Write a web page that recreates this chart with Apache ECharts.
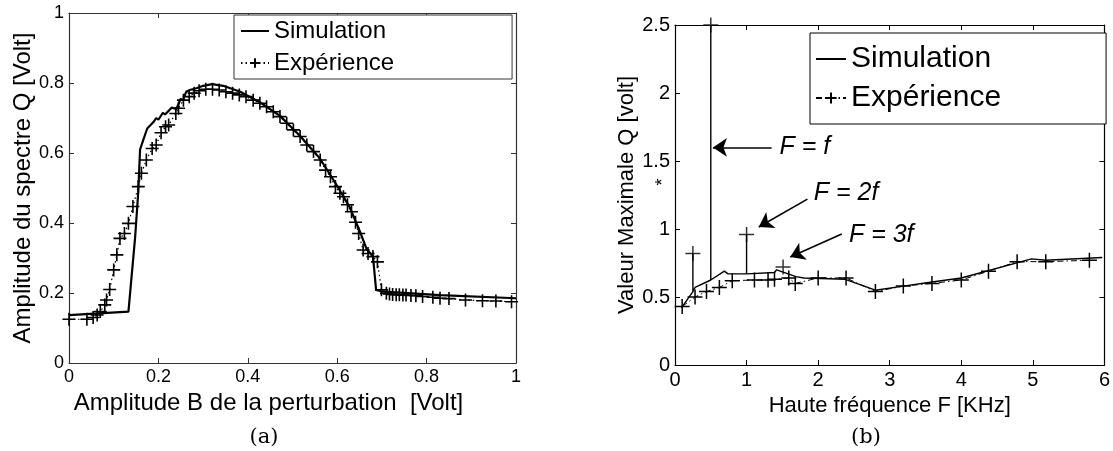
<!DOCTYPE html>
<html><head><meta charset="utf-8">
<script src="https://cdn.jsdelivr.net/npm/echarts@6/dist/echarts.min.js"></script>
<style>html,body{margin:0;padding:0;background:#fff}#c{width:1113px;height:451px}</style>
</head><body><div id="c"></div>
<script>
// ---- Panel (a) data ----
const simAX = [0, 0.133, 0.14, 0.148, 0.155, 0.159, 0.166, 0.175, 0.19, 0.195, 0.2, 0.21, 0.215, 0.23, 0.24, 0.25, 0.255, 0.262, 0.27, 0.285, 0.3, 0.32, 0.345, 0.383, 0.427, 0.472, 0.516, 0.561, 0.598, 0.628, 0.651, 0.666, 0.68, 0.687, 0.703, 0.83, 1.0];
const simAY = [0.137, 0.147, 0.247, 0.36, 0.49, 0.61, 0.637, 0.67, 0.69, 0.70, 0.695, 0.715, 0.71, 0.73, 0.725, 0.755, 0.75, 0.775, 0.78, 0.785, 0.792, 0.797, 0.792, 0.775, 0.745, 0.706, 0.65, 0.585, 0.51, 0.445, 0.375, 0.325, 0.305, 0.209, 0.204, 0.194, 0.185];
const expAX = [0, 0.04, 0.054, 0.063, 0.07, 0.08, 0.084, 0.091, 0.1, 0.107, 0.114, 0.124, 0.133, 0.143, 0.155, 0.162, 0.173, 0.186, 0.195, 0.206, 0.216, 0.223, 0.239, 0.245, 0.256, 0.269, 0.28, 0.291, 0.306, 0.321, 0.336, 0.351, 0.366, 0.381, 0.396, 0.412, 0.427, 0.442, 0.457, 0.472, 0.487, 0.502, 0.517, 0.532, 0.547, 0.562, 0.574, 0.585, 0.596, 0.606, 0.614, 0.623, 0.632, 0.641, 0.648, 0.658, 0.669, 0.68, 0.69, 0.699, 0.71, 0.717, 0.724, 0.732, 0.739, 0.747, 0.754, 0.765, 0.776, 0.791, 0.814, 0.83, 0.85, 0.887, 0.925, 0.955, 0.99];
const expAY = [0.125, 0.125, 0.13, 0.137, 0.147, 0.166, 0.18, 0.21, 0.266, 0.309, 0.356, 0.37, 0.399, 0.447, 0.504, 0.542, 0.58, 0.613, 0.623, 0.658, 0.675, 0.68, 0.713, 0.728, 0.751, 0.761, 0.771, 0.778, 0.782, 0.782, 0.78, 0.775, 0.771, 0.766, 0.761, 0.751, 0.742, 0.732, 0.718, 0.704, 0.685, 0.666, 0.647, 0.623, 0.604, 0.58, 0.551, 0.532, 0.504, 0.485, 0.475, 0.452, 0.432, 0.402, 0.37, 0.323, 0.313, 0.304, 0.289, 0.209, 0.199, 0.197, 0.196, 0.195, 0.195, 0.194, 0.194, 0.193, 0.192, 0.19, 0.188, 0.185, 0.184, 0.18, 0.178, 0.177, 0.175];

// ---- Panel (b) data ----
const simBX = [0.09, 0.25, 0.25, 0.25, 0.28, 0.5, 0.5, 0.5, 0.69, 0.74, 1.0, 1.0, 1.0, 1.39, 1.42, 1.69, 1.8, 2.38, 2.8, 3.19, 3.59, 4.0, 4.98, 5.18, 5.97];
const simBY = [0.42, 0.54, 0.82, 0.54, 0.57, 0.625, 2.5, 0.625, 0.69, 0.67, 0.67, 0.96, 0.67, 0.68, 0.70, 0.65, 0.64, 0.63, 0.55, 0.58, 0.61, 0.64, 0.78, 0.77, 0.79];
const expBX = [0.1, 0.28, 0.44, 0.62, 0.8, 1.11, 1.3, 1.39, 1.59, 1.68, 2.0, 2.39, 2.8, 3.19, 3.59, 4.0, 4.38, 4.78, 5.18, 5.79];
const expBY = [0.43, 0.50, 0.54, 0.57, 0.62, 0.625, 0.625, 0.63, 0.64, 0.60, 0.64, 0.64, 0.54, 0.58, 0.60, 0.625, 0.69, 0.76, 0.76, 0.77];
const harmX = [0.25, 0.5, 1.0, 1.51];
const harmY = [0.82, 2.5, 0.96, 0.72];
// annotations (data coordinates of panel b)
const annotLabels = ['F = f', 'F = 2f', 'F = 3f'];
const annotText = [[1.46, 1.60], [1.94, 1.265], [2.43, 0.956]];
const annotArrowFrom = [[1.35, 1.60], [1.85, 1.22], [2.33, 0.963]];
const annotArrowTo = [[0.53, 1.60], [1.17, 1.015], [1.61, 0.794]];

const FONT = "'Liberation Sans', Arial, sans-serif";
const PLUS = 'path://M0,5L10,5M5,0L5,10';
const zip = (xs, ys) => xs.map((x, i) => [x, ys[i]]);

const chart = echarts.init(document.getElementById('c'), null, {renderer: 'canvas'});

function xAx(grid, max, interval, name, fs, tfs, gap, color, pad) {
  return {type: 'value', gridIndex: grid, min: 0, max: max, interval: interval, position: 'bottom',
    name: name, nameLocation: 'middle', nameGap: gap,
    nameTextStyle: {fontFamily: FONT, fontSize: fs, color: '#000', padding: pad || 0},
    axisLine: {show: true, onZero: false, lineStyle: {color: color, width: 1.2}},
    axisTick: {show: true, inside: true, length: 5, lineStyle: {color: color}},
    axisLabel: {fontFamily: FONT, fontSize: tfs, color: '#000', margin: 5},
    splitLine: {show: false}};
}
function xTop(grid, max, interval, color) {
  return {type: 'value', gridIndex: grid, min: 0, max: max, interval: interval, position: 'top',
    axisLine: {show: true, onZero: false, lineStyle: {color: color, width: 1.2}},
    axisTick: {show: true, inside: true, length: 5, lineStyle: {color: color}},
    axisLabel: {show: false}, splitLine: {show: false}};
}
function yAx(grid, max, interval, name, fs, tfs, gap, color) {
  return {type: 'value', gridIndex: grid, min: 0, max: max, interval: interval, position: 'left',
    name: name, nameLocation: 'middle', nameGap: gap, nameRotate: 90,
    nameTextStyle: {fontFamily: FONT, fontSize: fs, color: '#000'},
    axisLine: {show: true, onZero: false, lineStyle: {color: color, width: 1.2}},
    axisTick: {show: true, inside: true, length: 5, lineStyle: {color: color}},
    axisLabel: {fontFamily: FONT, fontSize: tfs, color: '#000', margin: 5},
    splitLine: {show: false}};
}
function yRight(grid, max, interval, color) {
  return {type: 'value', gridIndex: grid, min: 0, max: max, interval: interval, position: 'right',
    axisLine: {show: true, onZero: false, lineStyle: {color: color, width: 1.2}},
    axisTick: {show: true, inside: true, length: 5, lineStyle: {color: color}},
    axisLabel: {show: false}, splitLine: {show: false}};
}

const hideSym = {color: 'rgba(0,0,0,0)', borderWidth: 0, opacity: 0};

const option = {
  animation: false,
  backgroundColor: '#fff',
  grid: [
    {left: 69, right: 597, top: 13, bottom: 88},
    {left: 675, right: 6, top: 25, bottom: 86}
  ],
  xAxis: [
    xAx(0, 1, 0.2, 'Amplitude B de la perturbation  [Volt]', 24, 18, 26, '#333', [0, 48, 0, 0]),
    xTop(0, 1, 0.2, '#333'),
    xAx(1, 6, 1, 'Haute fréquence F [KHz]', 22, 20, 26, '#000'),
    xTop(1, 6, 1, '#000')
  ],
  yAxis: [
    yAx(0, 1, 0.2, 'Amplitude du spectre Q [Volt]', 24, 18, 33, '#333'),
    yRight(0, 1, 0.2, '#333'),
    yAx(1, 2.5, 0.5, 'Valeur Maximale Q [volt]', 22, 20, 36, '#000'),
    yRight(1, 2.5, 0.5, '#000')
  ],
  legend: [
    {orient: 'vertical', left: 234, top: 15,
     data: [{name: 'simA', itemStyle: hideSym}, {name: 'expA'}],
     formatter: n => n === 'simA' ? 'Simulation' : 'Expérience',
     itemWidth: 28, itemHeight: 12, itemGap: 8, padding: [4, 118, 4, 6],
     borderColor: '#333', borderWidth: 1, backgroundColor: '#fff',
     textStyle: {fontFamily: FONT, fontSize: 24, color: '#000'}},
    {orient: 'vertical', left: 810, top: 33,
     data: [{name: 'simB', itemStyle: hideSym}, {name: 'expB'}],
     formatter: n => n === 'simB' ? 'Simulation' : 'Expérience',
     itemWidth: 30, itemHeight: 14, itemGap: 9, padding: [11, 105, 11, 5],
     borderColor: '#000', borderWidth: 1, backgroundColor: '#fff',
     textStyle: {fontFamily: FONT, fontSize: 30, color: '#000'}}
  ],
  series: [
    {name: 'simA', type: 'line', xAxisIndex: 0, yAxisIndex: 0, data: zip(simAX, simAY),
     symbol: 'none', lineStyle: {color: '#000', width: 2.2}, itemStyle: {color: '#000'}, z: 3},
    {name: 'expA', type: 'line', xAxisIndex: 0, yAxisIndex: 0, data: zip(expAX, expAY),
     symbol: PLUS, symbolSize: 13, showSymbol: true,
     lineStyle: {color: '#000', width: 1.2, type: [1.5, 3]},
     itemStyle: {color: '#000', borderColor: '#000', borderWidth: 1.6}, z: 4},
    {name: 'simB', type: 'line', xAxisIndex: 2, yAxisIndex: 2, data: zip(simBX, simBY),
     symbol: 'none', lineStyle: {color: '#000', width: 1.4}, itemStyle: {color: '#000'}, z: 3,
     markLine: {silent: true, symbol: ['none', 'arrow'], symbolSize: 14,
       label: {show: false}, lineStyle: {color: '#000', width: 1.6, type: 'solid'},
       data: annotArrowFrom.map((f, i) => [{coord: f}, {coord: annotArrowTo[i]}])}},
    {name: 'expB', type: 'line', xAxisIndex: 2, yAxisIndex: 2, data: zip(expBX, expBY),
     symbol: PLUS, symbolSize: 15, showSymbol: true,
     lineStyle: {color: '#000', width: 1, type: [6, 3, 1.5, 3]},
     itemStyle: {color: '#000', borderColor: '#000', borderWidth: 1.5}, z: 4},
    {name: 'harm', type: 'scatter', xAxisIndex: 2, yAxisIndex: 2, data: zip(harmX, harmY),
     symbol: PLUS, symbolSize: 15,
     itemStyle: {color: '#000', borderColor: '#000', borderWidth: 1.5}, z: 4}
  ]
};
chart.setOption(option);

// Text annotations and sub-captions
const g = [];
annotLabels.forEach((t, i) => {
  const p = chart.convertToPixel({xAxisIndex: 2, yAxisIndex: 2}, annotText[i]);
  g.push({type: 'text', x: p[0], y: p[1], style: {text: t, font: "italic 25px 'Liberation Sans', Arial, sans-serif",
    fill: '#000', textAlign: 'left', textVerticalAlign: 'middle'}});
});
g.push({type: 'text', x: 264, y: 438, style: {text: '(a)', font: "21px 'DejaVu Serif', serif", fill: '#000', textAlign: 'center', textVerticalAlign: 'middle'}});
g.push({type: 'text', x: 866, y: 438, style: {text: '(b)', font: "21px 'DejaVu Serif', serif", fill: '#000', textAlign: 'center', textVerticalAlign: 'middle'}});
g.push({type: 'text', x: 663, y: 182, rotation: Math.PI / 2, style: {text: '*', font: "18px 'Liberation Sans', Arial, sans-serif", fill: '#000', textAlign: 'center', textVerticalAlign: 'middle'}});
chart.setOption({graphic: g});
</script>
</body></html>
